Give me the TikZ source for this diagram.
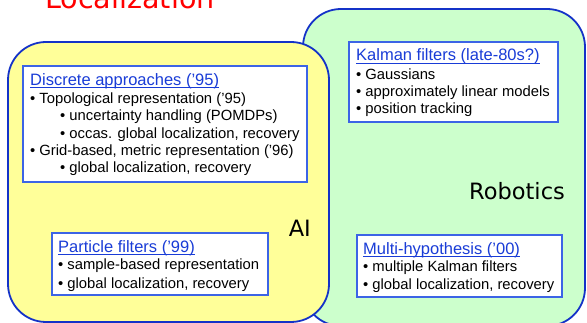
\documentclass[tikz,border=0pt]{standalone}
\usepackage{fontspec}
\setmainfont{Liberation Sans}
\newfontfamily\verd{DejaVu Sans}
\definecolor{outerblue}{RGB}{20,50,200}
\definecolor{innerblue}{RGB}{60,100,230}
\definecolor{titleblue}{RGB}{25,60,215}
\definecolor{aiyellow}{RGB}{255,255,153}
\definecolor{robgreen}{RGB}{204,255,204}
\tikzset{
  area/.style={draw=outerblue, line width=1.8pt, rounded corners=38pt, anchor=north west, inner sep=0pt, outer sep=0pt},
  topicbox/.style={draw=innerblue, line width=1.1pt, fill=white, anchor=north west, inner sep=0pt, outer sep=0pt},
  ttl/.style={anchor=base west, inner sep=0pt, text=titleblue, font=\fontsize{16.5}{18}\selectfont},
  uline/.style={draw=titleblue, line width=0.9pt},
  itm/.style={anchor=base west, inner sep=0pt, text=black, font=\fontsize{14.8}{17}\selectfont},
  big/.style={anchor=base east, inner sep=0pt, font=\verd\fontsize{22.5}{26}\selectfont}
}
\begin{document}
\begin{tikzpicture}[x=1pt,y=-1pt]
\useasboundingbox (0,0) rectangle (587,323);
% title
\node[anchor=base west, inner sep=0pt, text=red, font=\verd\fontsize{28.6}{32}\selectfont] (title) at (45,8.3) {Localization};
% areas
\node[area, fill=robgreen, minimum width=282pt, minimum height=317pt] (rob) at (303,9) {};
\node[area, fill=aiyellow, minimum width=321pt, minimum height=280pt] (ai) at (8,42) {};
\node[big] (ailabel) at (311,237) {AI};
\node[big] (roblabel) at (565,200) {Robotics};
% Discrete approaches
\node[topicbox, minimum width=284pt, minimum height=116pt] (disc) at (23,66) {};
\node[ttl] (discT) at (30,85.5) {Discrete approaches (’95)};
\draw[uline] ([yshift=-2pt]discT.base west) -- ([yshift=-2pt]discT.base east);
\node[itm] (disc1) at (30,103.5) {• Topological representation (’95)};
\node[itm] (disc2) at (60,120.8) {• uncertainty handling (POMDPs)};
\node[itm] (disc3) at (60,138.1) {• occas. global localization, recovery};
\node[itm] (disc4) at (30,155.4) {• Grid-based, metric representation (’96)};
\node[itm] (disc5) at (60,172.8) {• global localization, recovery};
% Particle filters
\node[topicbox, minimum width=216pt, minimum height=62pt] (part) at (52,233) {};
\node[ttl] (partT) at (58,252.3) {Particle filters (’99)};
\draw[uline] ([yshift=-2pt]partT.base west) -- ([yshift=-2pt]partT.base east);
\node[itm] (part1) at (58,270) {• sample-based representation};
\node[itm] (part2) at (58,288.2) {• global localization, recovery};
% Kalman filters
\node[topicbox, minimum width=209pt, minimum height=80pt] (kal) at (349,42) {};
\node[ttl] (kalT) at (356,61) {Kalman filters (late-80s?)};
\draw[uline] ([yshift=-2pt]kalT.base west) -- ([yshift=-2pt]kalT.base east);
\node[itm] (kal1) at (356,79.3) {• Gaussians};
\node[itm] (kal2) at (356,96.7) {• approximately linear models};
\node[itm] (kal3) at (356,114) {• position tracking};
% Multi-hypothesis
\node[topicbox, minimum width=205pt, minimum height=62pt] (multi) at (357,235) {};
\node[ttl] (multiT) at (363,254.3) {Multi-hypothesis (’00)};
\draw[uline] ([yshift=-2pt]multiT.base west) -- ([yshift=-2pt]multiT.base east);
\node[itm] (multi1) at (363,272) {• multiple Kalman filters};
\node[itm] (multi2) at (363,289.7) {• global localization, recovery};
\end{tikzpicture}
\end{document}
